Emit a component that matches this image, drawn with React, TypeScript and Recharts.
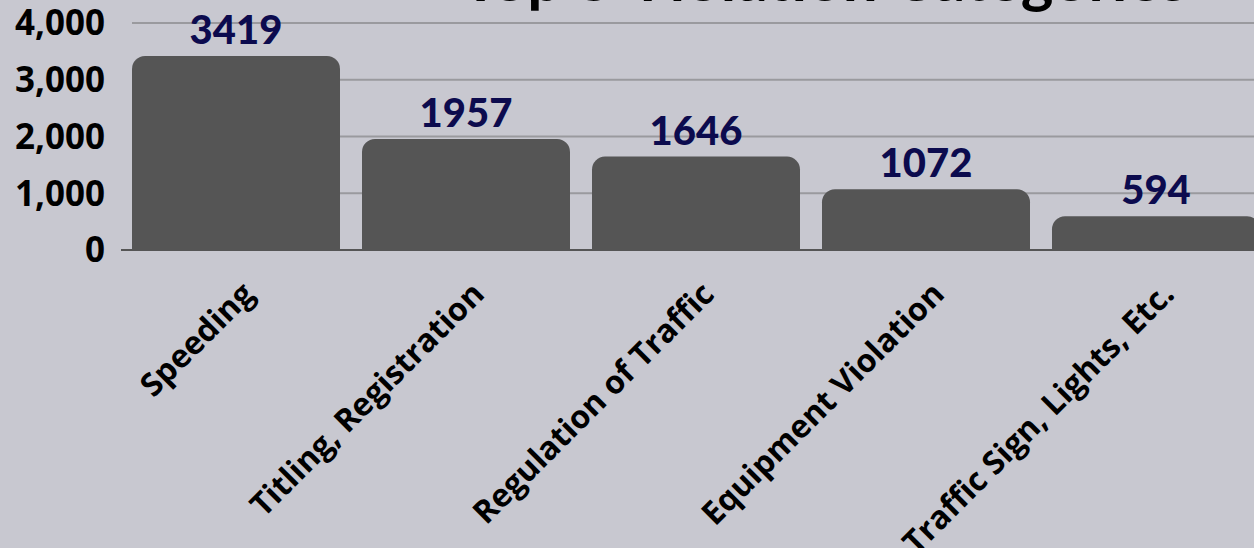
import React from "react";
import { BarChart, Bar, XAxis, YAxis, CartesianGrid, LabelList } from "recharts";

const categories = [
  "Speeding",
  "Titling, Registration",
  "Regulation of Traffic",
  "Equipment Violation",
  "Traffic Sign, Lights, Etc.",
];
const counts = [3419, 1957, 1646, 1072, 594];
const yTicks = [0, 1000, 2000, 3000, 4000];

const data = categories.map((name, i) => ({ name, count: counts[i] }));

const XTick = (props: any) => {
  const { x, y, payload } = props;
  const tx = x + 20;
  const ty = y + 46;
  return (
    <text
      x={tx}
      y={ty}
      transform={`rotate(-45, ${tx}, ${ty})`}
      textAnchor="end"
      fill="#000"
      fontFamily="'Open Sans', sans-serif"
      fontWeight={700}
      fontSize={32}
    >
      {payload.value}
    </text>
  );
};

export default function App() {
  return (
    <div
      style={{
        position: "fixed",
        left: 0,
        top: 0,
        width: 1254,
        height: 548,
        overflow: "hidden",
        background: "#c8c8d0",
      }}
    >
      <BarChart
        width={1271}
        height={548}
        data={data}
        margin={{ top: 23, right: 0, left: 0, bottom: 0 }}
        barSize={208}
      >
        <CartesianGrid
          vertical={false}
          stroke="#9a9a9e"
          strokeWidth={2}
          x={132}
          width={1139}
        />
        <XAxis
          dataKey="name"
          height={298}
          tickLine={false}
          tickSize={0}
          tickMargin={0}
          interval={0}
          stroke="#555555"
          strokeWidth={2}
          tick={<XTick />}
        />
        <YAxis
          width={121}
          domain={[0, 4000]}
          ticks={yTicks}
          axisLine={false}
          tickLine={false}
          tickSize={0}
          tickMargin={16}
          tickFormatter={(v: number) => v.toLocaleString("en-US")}
          tick={{
            fill: "#000",
            fontFamily: "'Noto Sans', sans-serif",
            fontWeight: 700,
            fontSize: 35,
          }}
        />
        <Bar
          dataKey="count"
          fill="#555555"
          radius={[13, 13, 0, 0]}
          isAnimationActive={false}
        >
          <LabelList
            dataKey="count"
            position="top"
            offset={12}
            fill="#0c0b4e"
            fontFamily="Lato, sans-serif"
            fontWeight={900}
            fontSize={40}
          />
        </Bar>
      </BarChart>
      <svg
        width={1254}
        height={30}
        style={{ position: "absolute", left: 0, top: 0, pointerEvents: "none" }}
      >
        <text
          x={462}
          y={1}
          fill="#000"
          fontFamily="Lato, sans-serif"
          fontWeight={700}
          fontSize={62}
        >
          Top 5 Violation Categories
        </text>
      </svg>
    </div>
  );
}
